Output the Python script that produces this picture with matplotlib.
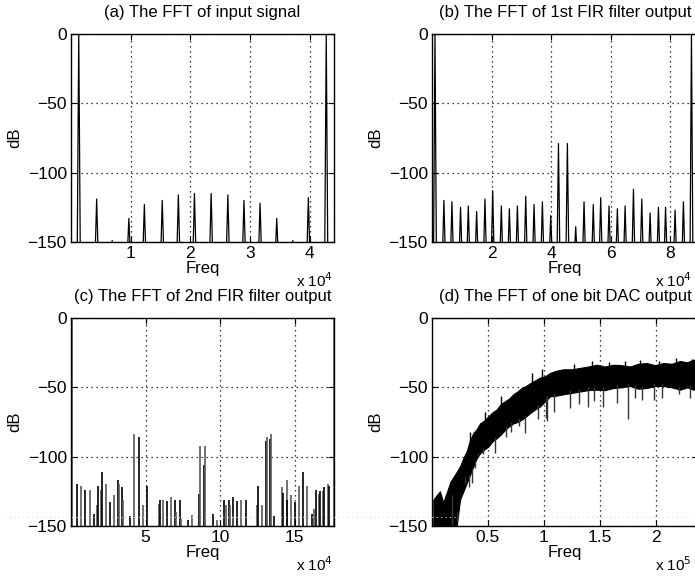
# FFT spectra at each stage of a one-bit DAC chain (MATLAB-style 2x2 figure)

import matplotlib.pyplot as plt
import numpy as np
from matplotlib.lines import Line2D

plt.rcParams["font.family"] = ["Liberation Sans", "DejaVu Sans"]

FLOOR = -150

# (a) input signal: spike frequency (Hz) and level (dB)
freq_a = [1300, 4300, 6900, 9700, 12300, 15300, 18000, 20700, 23500,
          26300, 29000, 31700, 34500, 37200, 39800, 42800]
db_a = [0, -119, -149, -133, -123, -120, -116, -115, -115,
        -116, -120, -122, -133, -149, -118, 0]

# (b) 1st FIR filter output
freq_b = [1000, 4000, 6700, 9600, 12200, 15000, 17800, 20400, 23300, 26000,
          28700, 31500, 34300, 37100, 39900, 42500, 45500, 48300, 51100, 54200,
          56700, 59500, 62300, 64900, 67700, 70500, 73300, 76100, 78500, 81700,
          84500, 87200]
db_b = [0, -120, -121, -125, -124, -128, -119, -113, -124, -126,
        -124, -117, -123, -121, -131, -79, -79, -139, -121, -123,
        -118, -124, -126, -124, -112, -119, -129, -125, -125, -127,
        -121, 0]

# (c) 2nd FIR filter output
freq_c = [700, 4000, 6700, 9600, 12500, 15200, 17200, 18100, 20100, 20800,
          23300, 26000, 28900, 31500, 32200, 34500, 34900, 39800, 42500, 45400,
          48500, 51000, 58800, 59700, 61700, 64600, 67300, 70000, 70700, 73100,
          73600, 78500, 81200, 86000, 86800, 89300, 89700, 95100, 97800, 102900,
          103800, 105800, 106700, 108500, 108900, 111600, 114300, 117200, 125000, 125700,
          128400, 130700, 131300, 133600, 134000, 136200, 141800, 142500, 144800, 145200,
          147400, 150300, 152800, 155700, 158600, 161500, 163300, 164200, 166400, 167200,
          169300, 170000, 172300, 173100, 176100]
db_c = [0, -120, -121, -124, -124, -141, -135, -121, -124, -111,
        -120, -133, -128, -117, -120, -122, -131, -143, -84, -86,
        -135, -121, -134, -131, -131, -132, -129, -131, -140, -131,
        -145, -146, -142, -127, -92, -106, -92, -141, -146, -131,
        -135, -131, -135, -129, -143, -132, -131, -131, -135, -121,
        -135, -89, -86, -87, -84, -143, -122, -126, -117, -131,
        -128, -133, -121, -111, -121, -141, -138, -124, -127, -125,
        -125, -122, -120, -121, 0]

# (d) one bit DAC output: noise band envelope (Hz, dB)
freq_d = [1200, 4000, 7100, 10000, 13100, 16500, 20500, 25000, 28000, 31000,
          34000, 36900, 40000, 42900, 46500, 50300, 54000, 57700, 61500, 65200,
          69000, 72600, 76300, 80000, 84000, 87500, 92000, 96400, 101000, 105400,
          111000, 117300, 125000, 132100, 139500, 147000, 154500, 161900, 169000,
          176800, 184000, 191700, 199000, 206500, 214000, 221400, 228000, 233300, 240000]
top_d = [-131, -128, -125, -133, -126, -118, -113, -107, -101, -96,
         -88, -83, -80, -76, -74, -71, -68, -66, -62, -60,
         -58, -55, -53, -50.5, -49, -47, -45, -43, -42, -39.6,
         -38, -37, -37, -36, -35, -33.7, -35, -33.7, -34,
         -35, -33, -32.5, -34, -32.5, -33, -31, -32, -30, -33]
low_d = [-160, -160, -160, -160, -160, -160, -160, -131, -125, -119,
         -113, -107, -101, -97.6, -95, -92.7, -89, -86.7, -84, -80.7,
         -78, -76, -75, -73.4, -71, -68.6, -66, -63.8, -60, -56.5,
         -56, -55, -54, -53, -52, -51.7, -52, -50.5, -50,
         -49, -51, -50.5, -49, -49, -50, -51.7, -50, -51.7, -51]
# deep dips poking out under the band and spikes above it
dip_freq_d = [15500, 17900, 22300, 27000, 29800, 33000, 35500, 38000, 41100,
              45500, 51100, 56000, 60100, 66000, 70500, 78000, 83000, 94900,
              101400, 103000, 109000, 122900, 131000, 139300, 145000, 152700,
              165000, 175300, 181000, 187800, 198200, 205000, 220200, 230000]
dip_db_d = [-150, -128, -140, -125, -115, -122, -119, -108, -100,
            -98, -90, -97, -84, -86, -82, -78, -83, -73,
            -72, -74, -68, -65, -62, -64, -60, -64,
            -61, -73, -58, -59, -59, -58, -55, -58]
peak_freq_d = [34000, 47000, 62000, 89000, 98000, 127000, 143000, 158000, 172000,
               186000, 203000, 218000, 232000]
peak_db_d = [-82, -68, -56, -40, -37, -33, -31, -32, -31,
             -30, -31, -29, -29.5]

XT_A = [1, 2, 3, 4]
XT_B = [2, 4, 6, 8]
XT_C = [5, 10, 15]
XT_D = [0.5, 1, 1.5, 2]
YT = [-150, -100, -50, 0]


def spike_trace(freqs, levels, half_width):
    """Narrow triangular spikes rising from below the floor"""
    xs, ys = [], []
    for f, h in zip(freqs, levels):
        xs += [f - half_width, f, f + half_width, np.nan]
        ys += [FLOOR - 10, h, FLOOR - 10, np.nan]
    return xs, ys


def style_axes(ax, title, xmax, ticks, scale, exp, exp_x):
    ax.set_xlim(0, xmax)
    ax.set_ylim(FLOOR, 0)
    ax.set_xticks([t * scale for t in ticks], labels=[f"{t:g}" for t in ticks])
    ax.set_yticks(YT)
    ax.grid(True, color="k", linestyle=(0, (1, 3)), linewidth=0.9)
    ax.tick_params(direction="in", top=True, right=True, length=4,
                   labelsize=12.5, pad=3, width=0.8)
    for sp in ax.spines.values():
        sp.set_linewidth(1.0)
    ax.set_title(title, fontsize=12, pad=12)
    ax.set_xlabel("Freq", fontsize=12, labelpad=0)
    ax.set_ylabel("dB", fontsize=12, labelpad=4)
    ax.text(exp_x, -0.188, f"x 10$^{exp}$", transform=ax.transAxes,
            ha="right", va="center", fontsize=11)


fig = plt.figure(figsize=(6.95, 5.76), dpi=100)
W, H = 695, 576
ax_a = fig.add_axes([71 / W, 1 - 242 / H, 263 / W, 208 / H])
ax_b = fig.add_axes([432 / W, 1 - 242 / H, 266 / W, 208 / H])
ax_c = fig.add_axes([71 / W, 1 - 526 / H, 263 / W, 208 / H])
ax_d = fig.add_axes([432 / W, 1 - 526 / H, 266 / W, 208 / H])

xs, ys = spike_trace(freq_a, db_a, 260)
ax_a.plot(xs, ys, color="k", linewidth=0.9)
style_axes(ax_a, "(a) The FFT of input signal", 44100, XT_A, 1e4, 4, 0.996)

xs, ys = spike_trace(freq_b, db_b, 480)
ax_b.plot(xs, ys, color="k", linewidth=0.9)
style_axes(ax_b, "(b) The FFT of 1st FIR filter output", 89400, XT_B, 1e4, 4, 0.977)

colors_c = ["k" if i % 2 else "0.35" for i in range(len(freq_c))]
ax_c.vlines(freq_c, FLOOR - 10, db_c, colors=colors_c, linewidth=1.2)
style_axes(ax_c, "(c) The FFT of 2nd FIR filter output", 176400, XT_C, 1e4, 4, 0.996)

ax_d.fill_between(freq_d, low_d, top_d, color="k", linewidth=0.8)
dip_top = np.interp(dip_freq_d, freq_d, low_d) + 2
ax_d.vlines(dip_freq_d, dip_db_d, dip_top, colors="0.2", linewidth=1.0)
peak_base = np.interp(peak_freq_d, freq_d, top_d) - 2
ax_d.vlines(peak_freq_d, peak_base, peak_db_d, colors="k", linewidth=1.0)
style_axes(ax_d, "(d) The FFT of one bit DAC output", 237500, XT_D, 1e5, 5, 0.977)

# faint cyan scan line crossing the lower panels
fig.add_artist(Line2D([5 / W, 690 / W], [1 - 517 / H, 1 - 517 / H],
                      color="#a8e8f2", linestyle=(0, (1, 3)), linewidth=0.8))

fig.savefig("out.png", dpi=100)
